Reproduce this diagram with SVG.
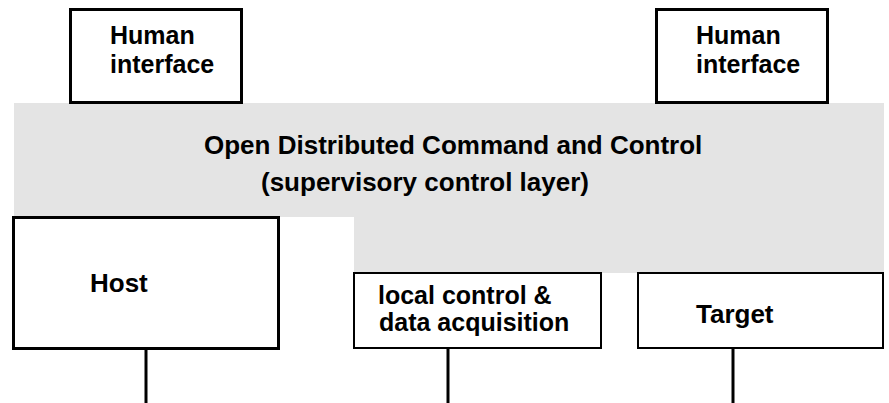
<svg xmlns="http://www.w3.org/2000/svg" width="889" height="403" viewBox="0 0 889 403">
<style>
.t{font-family:"Liberation Sans",Arial,sans-serif;font-weight:bold;font-size:26px;fill:#000}
.s{font-size:25px}
.box{fill:#fff;stroke:#000;stroke-width:2}
.hi{fill:#fff;stroke:#000;stroke-width:3}
.ln{stroke:#000;stroke-width:3;fill:none}
</style>
<rect width="889" height="403" fill="#fff"/>
<g id="layer">
<path d="M14,103 H884 V273 H354 V217 H14 Z" fill="#e4e4e4"/>
<text class="t" x="204" y="154">Open Distributed Command and Control</text>
<text class="t" x="261" y="191">(supervisory control layer)</text>
</g>
<g id="hi-left">
<rect class="hi" x="70.5" y="9.5" width="171" height="93"/>
<text class="t s" x="110" y="44">Human</text>
<text class="t s" x="110" y="73">interface</text>
</g>
<g id="hi-right">
<rect class="hi" x="656.5" y="9.5" width="171" height="93"/>
<text class="t s" x="696" y="44">Human</text>
<text class="t s" x="696" y="73">interface</text>
</g>
<g id="host">
<rect class="hi" x="13.5" y="217.5" width="265" height="131"/>
<text class="t" x="90" y="292">Host</text>
</g>
<g id="local">
<rect class="box" x="354" y="273" width="247" height="75"/>
<text class="t s" x="378" y="304">local control &amp;</text>
<text class="t s" x="379" y="331">data acquisition</text>
</g>
<g id="target">
<rect class="box" x="638" y="273" width="245" height="75"/>
<text class="t" x="696" y="323">Target</text>
</g>
<g id="connectors">
<line class="ln" x1="146" y1="349" x2="146" y2="403"/>
<line class="ln" x1="448" y1="349" x2="448" y2="403"/>
<line class="ln" x1="733" y1="349" x2="733" y2="403"/>
</g>
</svg>
